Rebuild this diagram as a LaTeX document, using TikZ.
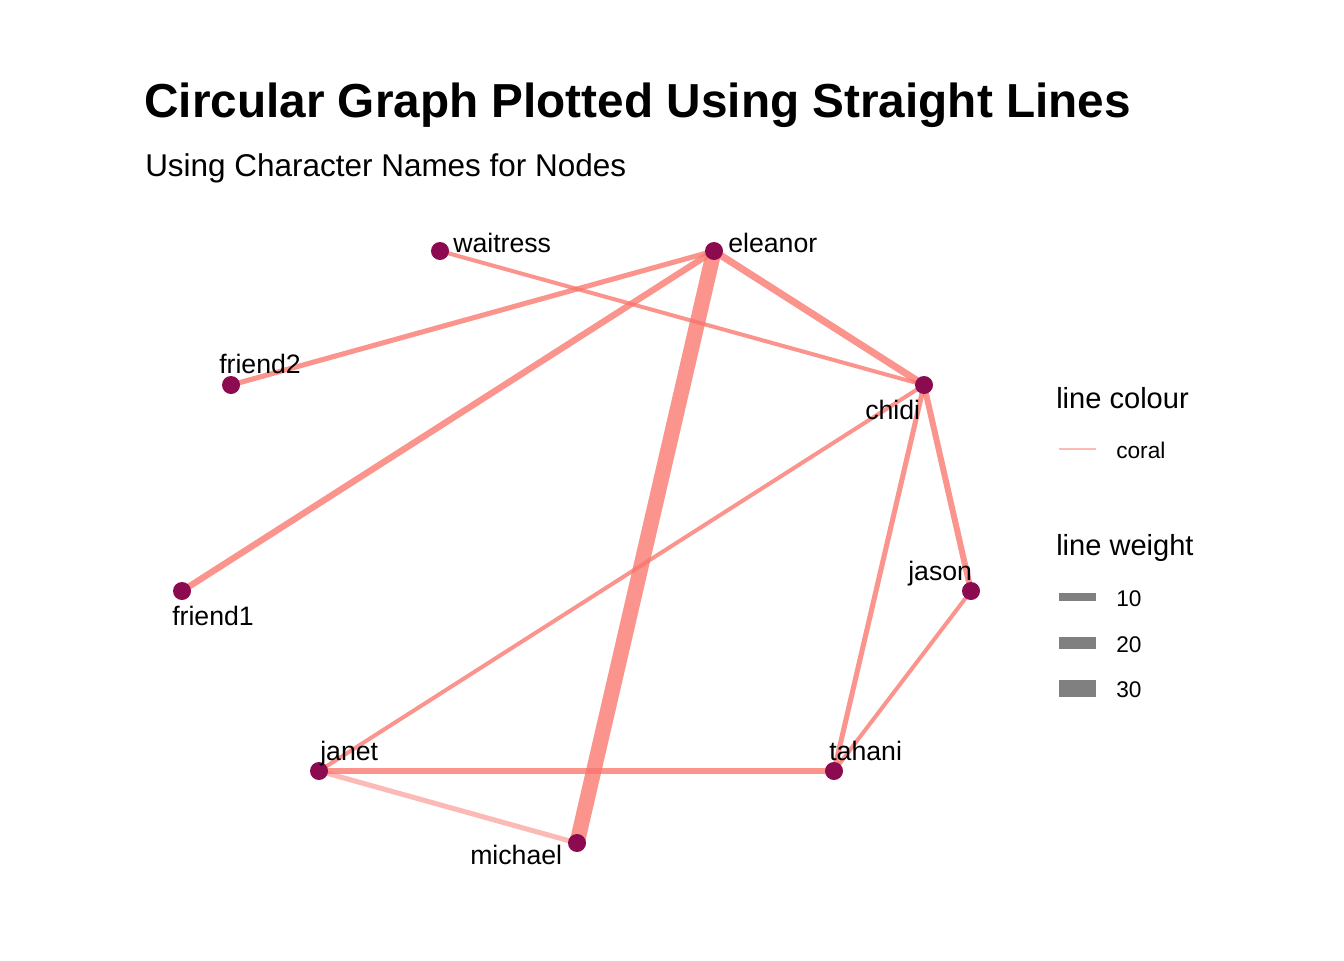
\documentclass[tikz,border=0pt]{standalone}
\usepackage{fontspec}
\setmainfont{Liberation Sans}
\definecolor{edgec}{HTML}{F8766D}
\definecolor{dotc}{HTML}{8B0A50}
\definecolor{keyg}{HTML}{808080}
\begin{document}
\begin{tikzpicture}[x=0.75pt,y=-0.75pt,
  vtx/.style={circle,fill=dotc,inner sep=0pt,minimum size=13.5pt},
  edge/.style={draw=edgec,draw opacity=0.78},
  lbl/.style={anchor=base west,inner sep=0pt,font=\fontsize{20}{22}\selectfont},
  legtitle/.style={anchor=base west,inner sep=0pt,font=\fontsize{21.8}{24}\selectfont},
  legkey/.style={anchor=base west,inner sep=0pt,font=\fontsize{17}{19}\selectfont},
  wbar/.style={fill=keyg,draw=none}]
\useasboundingbox (0,0) rectangle (1344,960);
% title
\node[anchor=base west,inner sep=0pt,font=\fontsize{35.8}{40}\selectfont\bfseries] (title) at (144,117) {Circular Graph Plotted Using Straight Lines};
\node[anchor=base west,inner sep=0pt,font=\fontsize{23.6}{26}\selectfont] (subtitle) at (145,176) {Using Character Names for Nodes};
% vertices (coordinates for edges)
\coordinate (waitress) at (440,251);
\coordinate (eleanor) at (714,251);
\coordinate (friend2) at (231,385);
\coordinate (chidi) at (924,385);
\coordinate (friend1) at (182,591);
\coordinate (jason) at (971,591);
\coordinate (janet) at (319,771);
\coordinate (tahani) at (834,771);
\coordinate (michael) at (577,843);
% edges
\draw[edge,line width=3pt] (waitress) -- (chidi);
\draw[edge,line width=3.8pt] (eleanor) -- (friend2);
\draw[edge,line width=4.8pt] (eleanor) -- (friend1);
\draw[edge,line width=11.5pt] (eleanor) -- (michael);
\draw[edge,line width=5.3pt] (eleanor) -- (chidi);
\draw[edge,line width=3pt] (chidi) -- (janet);
\draw[edge,line width=3.8pt] (chidi) -- (tahani);
\draw[edge,line width=4.5pt] (chidi) -- (jason);
\draw[edge,line width=3pt] (jason) -- (tahani);
\draw[edge,line width=3.8pt] (janet) -- (tahani);
\draw[edge,line width=3.8pt,draw opacity=0.5] (janet) -- (michael);
% dots
\foreach \v in {waitress,eleanor,friend2,chidi,friend1,jason,janet,tahani,michael}
  \node[vtx] (dot-\v) at (\v) {};
% labels
\node[lbl] (l-waitress) at (453,252) {waitress};
\node[lbl] (l-eleanor) at (728,252) {eleanor};
\node[lbl] (l-friend2) at (219,373) {friend2};
\node[lbl] (l-chidi) at (865,419) {chidi};
\node[lbl] (l-jason) at (908,580) {jason};
\node[lbl] (l-friend1) at (172,625) {friend1};
\node[lbl] (l-janet) at (320,760) {janet};
\node[lbl] (l-tahani) at (829,760) {tahani};
\node[lbl] (l-michael) at (470,864) {michael};
% legend
\node[legtitle] (lt1) at (1056,408) {line colour};
\coordinate (ck1) at (1059,449);
\coordinate (ck2) at (1096,449);
\draw[draw=edgec,draw opacity=0.5,line width=1.6pt] (ck1) -- (ck2);
\node[legkey] (lk-coral) at (1116,458) {coral};
\node[legtitle] (lt2) at (1056,555) {line weight};
\fill[wbar] (1059,593) rectangle (1096,601);
\fill[wbar] (1059,637) rectangle (1096,649);
\fill[wbar] (1059,680) rectangle (1096,697);
\node[legkey] (lk10) at (1116,606) {10};
\node[legkey] (lk20) at (1116,652) {20};
\node[legkey] (lk30) at (1116,697) {30};
\end{tikzpicture}
\end{document}
